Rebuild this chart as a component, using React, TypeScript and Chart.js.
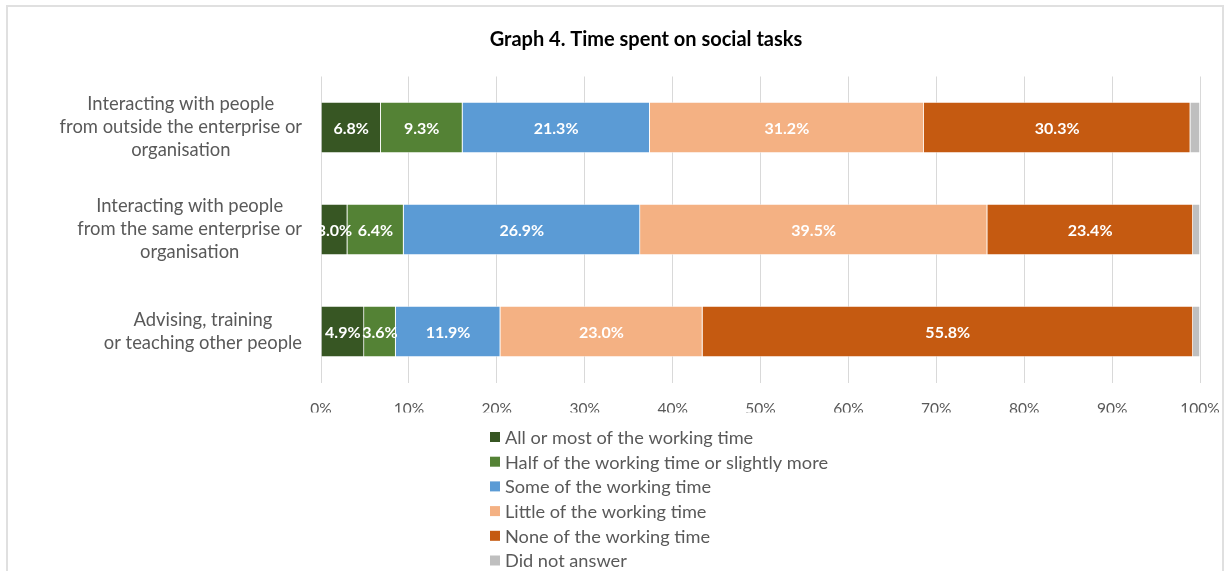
import React, { useEffect, useRef } from "react";
import { Chart, registerables } from "chart.js";

Chart.register(...registerables);

const chartTitle = "Graph 4. Time spent on social tasks";
const categories: string[][] = [
  ["Interacting with people", "from outside the enterprise or", "organisation"],
  ["Interacting with people", "from the same enterprise or", "organisation"],
  ["Advising, training", "or teaching other people"],
];
const seriesNames = [
  "All or most of the working time",
  "Half of the working time or slightly more",
  "Some of the working time",
  "Little of the working time",
  "None of the working time",
  "Did not answer",
];
const allOrMost = [6.8, 3.0, 4.9];
const halfOrMore = [9.3, 6.4, 3.6];
const someTime = [21.3, 26.9, 11.9];
const littleTime = [31.2, 39.5, 23.0];
const noneTime = [30.3, 23.4, 55.8];
const didNotAnswer = [1.1, 0.8, 0.8];
const seriesColors = ["#375623", "#548235", "#5B9BD5", "#F4B183", "#C55A11", "#BFBFBF"];
const labelledSeries = [true, true, true, true, true, false];

const FONT = "Lato, 'Open Sans', sans-serif";

const customDraw = {
  id: "customDraw",
  afterDraw(chart: any) {
    const ctx = chart.ctx;
    const area = chart.chartArea;
    const yScale = chart.scales.y;
    ctx.save();
    // title
    ctx.fillStyle = "#000000";
    ctx.font = `bold 20px ${FONT}`;
    ctx.textAlign = "center";
    ctx.textBaseline = "middle";
    ctx.fillText(chartTitle, 646, 40);

    // category labels (block right aligned, lines centered)
    ctx.font = `18.4px ${FONT}`;
    ctx.fillStyle = "#595959";
    const lh = 23;
    const rightEdge = area.left - 19;
    chart.data.labels.forEach((lines: string[], i: number) => {
      const yc = yScale.getPixelForValue(i);
      let widest = 0;
      lines.forEach((l) => (widest = Math.max(widest, ctx.measureText(l).width)));
      const cx = rightEdge - widest / 2;
      const y0 = yc - ((lines.length - 1) * lh) / 2;
      lines.forEach((l, k) => ctx.fillText(l, cx, y0 + k * lh));
    });

    // data labels
    ctx.font = `bold 16px ${FONT}`;
    ctx.fillStyle = "#FFFFFF";
    chart.data.datasets.forEach((ds: any, di: number) => {
      if (!labelledSeries[di]) return;
      const meta = chart.getDatasetMeta(di);
      meta.data.forEach((el: any, i: number) => {
        const v = ds.data[i];
        const cx = (el.x + el.base) / 2;
        ctx.fillText(v.toFixed(1) + "%", cx, el.y + 1);
      });
    });

    // legend
    ctx.font = `18.2px ${FONT}`;
    ctx.textAlign = "left";
    chart.data.datasets.forEach((ds: any, di: number) => {
      const y = 437 + di * 24.7;
      ctx.fillStyle = ds.backgroundColor;
      ctx.fillRect(490, y - 5, 10, 10);
      ctx.fillStyle = "#595959";
      ctx.fillText(ds.label, 505, y + 1);
    });
    ctx.restore();
  },
};

export default function App() {
  const ref = useRef<HTMLCanvasElement | null>(null);
  useEffect(() => {
    if (!ref.current) return;
    const seriesData = [allOrMost, halfOrMore, someTime, littleTime, noneTime, didNotAnswer];
    const chart = new Chart(ref.current, {
      type: "bar",
      data: {
        labels: categories as any,
        datasets: seriesNames.map((name, i) => ({
          label: name,
          data: seriesData[i],
          backgroundColor: seriesColors[i],
          borderColor: "rgba(255,255,255,0.6)",
          borderWidth: 0.75,
          barPercentage: 1,
          categoryPercentage: 0.5,
        })),
      },
      options: {
        indexAxis: "y",
        responsive: false,
        animation: false,
        layout: { padding: { left: 321, right: 27, top: 76.5, bottom: 158.5 } },
        plugins: {
          legend: { display: false },
          title: { display: false },
          tooltip: { enabled: false },
        },
        scales: {
          y: { stacked: true, display: false },
          x: {
            stacked: true,
            min: 0,
            max: 100,
            afterFit: (s: any) => {
              s.height = 30;
              s.paddingLeft = 0;
              s.paddingRight = 0;
            },
            ticks: {
              stepSize: 10,
              padding: 0,
              color: "#595959",
              font: { family: FONT, size: 15.5 },
              callback: (v: any) => v + "%",
            },
            grid: {
              color: "#D9D9D9",
              lineWidth: 1,
              drawTicks: true,
              tickLength: 17,
              tickColor: "rgba(0,0,0,0)",
            },
            border: { display: false },
          },
        },
      },
      plugins: [customDraw],
    });
    return () => chart.destroy();
  }, []);
  return (
    <div
      style={{
        position: "absolute",
        left: 0,
        top: 0,
        width: 1227,
        height: 571,
        overflow: "hidden",
        background: "#FFFFFF",
      }}
    >
      <div
        style={{
          position: "absolute",
          left: 6,
          top: 5,
          width: 1218,
          height: 700,
          boxSizing: "border-box",
          border: "2px solid #E0E0E0",
        }}
      />
      <canvas ref={ref} width={1227} height={571} style={{ position: "absolute", left: 0, top: 0 }} />
    </div>
  );
}
